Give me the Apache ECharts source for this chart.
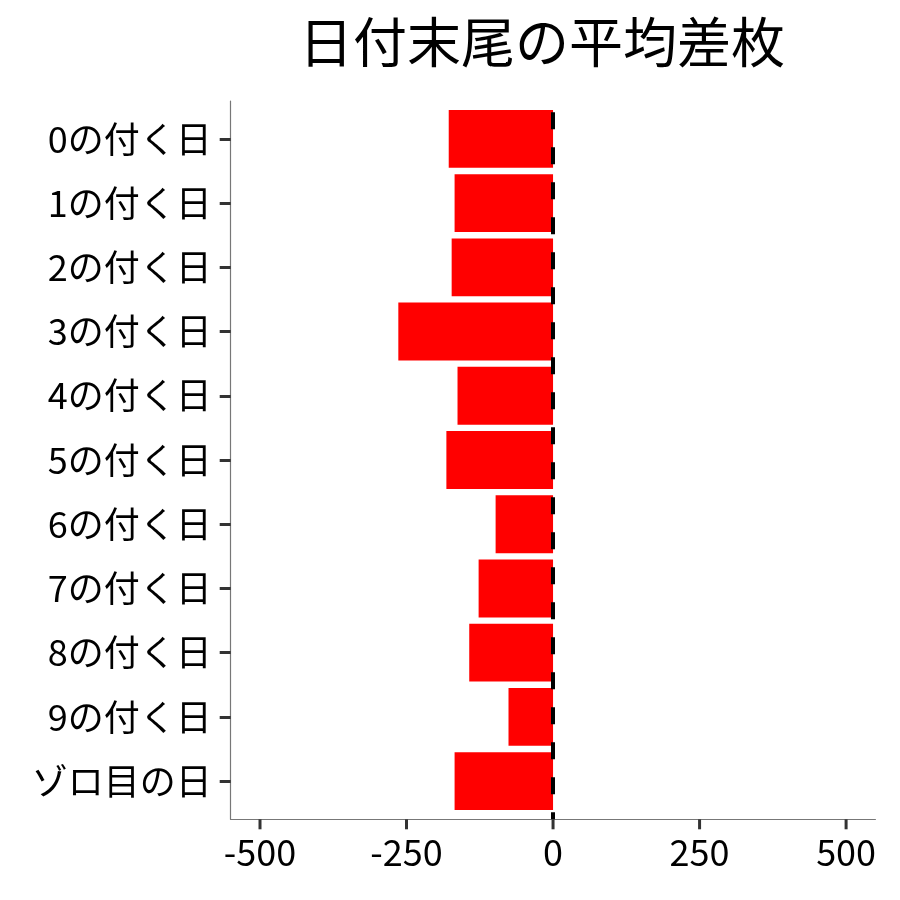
<!DOCTYPE html>
<html>
<head>
<meta charset="utf-8">
<script src="https://cdn.jsdelivr.net/npm/echarts@6/dist/echarts.min.js"></script>
<style>
  html, body { margin: 0; padding: 0; background: #fff; }
  #chart { width: 900px; height: 900px; }
</style>
</head>
<body>
<div id="chart"></div>
<script>
// 日付末尾ごとの平均差枚
var categories = ['0の付く日', '1の付く日', '2の付く日', '3の付く日', '4の付く日',
  '5の付く日', '6の付く日', '7の付く日', '8の付く日', '9の付く日', 'ゾロ目の日'];
var diffValues = [-178, -168, -173, -264, -163, -182, -98, -127, -143, -76, -168];
var xTicks = [-500, -250, 0, 250, 500];
var xTickMin = -500, xTickMax = 500, xTickStep = 250;
var xMin = -550, xMax = 550;

var font = '"Noto Sans CJK JP", "Noto Sans", sans-serif';
var myChart = echarts.init(document.getElementById('chart'));

// パネルの左右端（-550〜550）と目盛範囲（-500〜500）の位置
var panelLeft = 230.7, panelRight = 875.4, panelTop = 101, panelBottom = 819.3;
var unit = (panelRight - panelLeft) / (xMax - xMin);
var tickLeft = panelLeft + (xTickMin - xMin) * unit;
var tickRight = panelRight - (xMax - xTickMax) * unit;
var tickLen = 10;
var axisLineStyle = { color: '#777', width: 1.2 };

myChart.setOption({
  animation: false,
  textStyle: { fontFamily: font },
  title: {
    text: '日付末尾の平均差枚',
    left: 537,
    top: 10,
    textAlign: 'center',
    textStyle: { fontSize: 54, fontWeight: 'normal', color: '#000', fontFamily: font }
  },
  grid: [
    // バー用（カテゴリの帯）
    { left: panelLeft, right: 900 - panelRight, top: 106.7, bottom: 86.7, outerBoundsMode: 'none' },
    // 軸線用（パネル全体）
    { left: panelLeft, right: 900 - panelRight, top: panelTop, bottom: 900 - panelBottom, outerBoundsMode: 'none' },
    // x目盛ラベル用（-500〜500）
    { left: tickLeft, right: 900 - tickRight, top: panelBottom, height: tickLen, outerBoundsMode: 'none' },
    // x目盛線用（軸の下の細い帯、-550〜550）
    { left: panelLeft, right: 900 - panelRight, top: panelBottom, height: tickLen, outerBoundsMode: 'none' }
  ],
  xAxis: [
    { gridIndex: 0, type: 'value', min: xMin, max: xMax, show: false },
    {
      gridIndex: 1, type: 'value', min: xMin, max: xMax,
      axisLine: { show: true, onZero: false, lineStyle: axisLineStyle },
      axisTick: { show: false },
      axisLabel: { show: false },
      splitLine: { show: false }
    },
    {
      gridIndex: 2, type: 'value', min: xTickMin, max: xTickMax, interval: xTickStep,
      axisLine: { show: false },
      axisTick: { show: false },
      axisLabel: { fontSize: 36, color: '#000', margin: 5, fontFamily: font },
      splitLine: { show: false }
    },
    { gridIndex: 3, type: 'value', min: xMin, max: xMax, show: false }
  ],
  yAxis: [
    {
      gridIndex: 0, type: 'category', data: categories, inverse: true,
      axisLine: { show: true, onZero: false, lineStyle: { color: 'rgba(0,0,0,0)' } },
      axisTick: { show: true, alignWithLabel: true, length: 11, lineStyle: { color: '#333', width: 3 } },
      axisLabel: { fontSize: 36, color: '#000', margin: 19, interval: 0, fontFamily: font },
      splitLine: { show: false }
    },
    {
      gridIndex: 1, type: 'value', min: 0, max: 1,
      axisLine: { show: true, onZero: false, lineStyle: axisLineStyle },
      axisTick: { show: false },
      axisLabel: { show: false },
      splitLine: { show: false }
    },
    { gridIndex: 2, type: 'value', min: 0, max: 1, show: false },
    { gridIndex: 3, type: 'value', min: 0, max: 1, show: false }
  ],
  series: [
    {
      type: 'bar',
      xAxisIndex: 0,
      yAxisIndex: 0,
      data: diffValues,
      barWidth: '90%',
      itemStyle: { color: '#ff0000' }
    },
    {
      type: 'scatter',
      xAxisIndex: 1,
      yAxisIndex: 1,
      data: [[0, 0.5]],
      symbolSize: 0,
      silent: true,
      z: 10,
      markLine: {
        silent: true,
        symbol: 'none',
        label: { show: false },
        lineStyle: { color: '#000', width: 4, type: [17, 18], dashOffset: 10 },
        data: [{ xAxis: 0 }]
      }
    },
    {
      // x軸の目盛線
      type: 'scatter',
      xAxisIndex: 3,
      yAxisIndex: 3,
      data: xTicks.map(function (v) { return [v, 0.5]; }),
      symbol: 'rect',
      symbolSize: [3, tickLen],
      clip: false,
      silent: true,
      z: 100,
      itemStyle: { color: '#333', opacity: 1 }
    }
  ]
});
</script>
</body>
</html>
